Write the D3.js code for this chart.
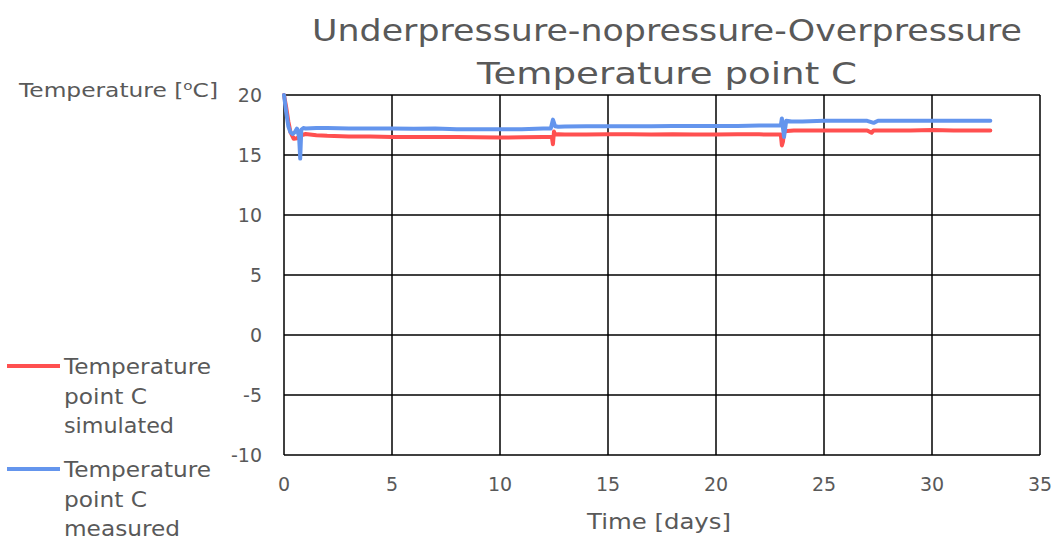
<!DOCTYPE html>
<html>
<head>
<meta charset="utf-8">
<script src="https://cdn.jsdelivr.net/npm/d3@7"></script>
<style>
  body { margin: 0; background: #fff; }
  text { font-family: "DejaVu Sans", sans-serif; fill: #595959; }
</style>
</head>
<body>
<div id="chart"></div>
<script>
// Chart data
const simDays = [0, 0.1, 0.2, 0.3, 0.45, 0.6, 0.8, 1.0, 1.5, 2,
  3, 4, 5, 6, 7, 8, 9, 10, 11, 12,
  12.4, 12.45, 12.5, 12.55, 12.7, 13, 14, 15, 16, 17,
  18, 19, 20, 21, 22, 23.0, 23.05, 23.1, 23.15, 23.3,
  23.6, 24, 25, 26, 27, 27.2, 27.3, 28, 29, 30,
  31, 32, 32.7];
const simTemp = [20, 19.0, 17.8, 16.9, 16.35, 16.4, 16.65, 16.75, 16.65, 16.6,
  16.55, 16.55, 16.5, 16.5, 16.5, 16.5, 16.48, 16.45, 16.48, 16.5,
  16.5, 15.9, 16.95, 16.7, 16.72, 16.7, 16.7, 16.72, 16.72, 16.7,
  16.72, 16.7, 16.7, 16.72, 16.72, 16.7, 15.8, 16.1, 16.95, 17.0,
  17.05, 17.05, 17.05, 17.05, 17.05, 16.85, 17.05, 17.05, 17.05, 17.08,
  17.05, 17.05, 17.05];

const measDays = [0, 0.1, 0.2, 0.3, 0.4, 0.5, 0.6, 0.7, 0.75, 0.8,
  0.9, 1.0, 1.5, 2, 3, 4, 5, 6, 7, 8,
  9, 10, 11, 12, 12.35, 12.45, 12.55, 12.7, 13, 14,
  15, 16, 17, 18, 19, 20, 21, 22, 23.0, 23.05,
  23.15, 23.25, 23.5, 24, 25, 26, 27, 27.3, 27.5, 28,
  29, 30, 31, 32, 32.7];
const measTemp = [20, 18.6, 17.4, 16.9, 16.75, 16.9, 17.2, 16.5, 14.7, 17.1,
  17.25, 17.2, 17.25, 17.25, 17.2, 17.2, 17.2, 17.18, 17.2, 17.15,
  17.15, 17.15, 17.15, 17.2, 17.2, 17.95, 17.4, 17.35, 17.38, 17.4,
  17.4, 17.4, 17.4, 17.42, 17.42, 17.42, 17.42, 17.45, 17.45, 18.05,
  16.5, 17.85, 17.8, 17.8, 17.85, 17.85, 17.85, 17.68, 17.85, 17.85,
  17.85, 17.85, 17.85, 17.85, 17.85];

const xTicks = [0, 5, 10, 15, 20, 25, 30, 35];
const yTicks = [-10, -5, 0, 5, 10, 15, 20];
const titleLines = ["Underpressure-nopressure-Overpressure", "Temperature point C"];
const seriesNames = [["Temperature", "point C", "simulated"], ["Temperature", "point C", "measured"]];
const seriesColors = ["#FF5050", "#6495ED"];

// Layout
const W = 1053, H = 544;
const plot = { left: 284, right: 1040, top: 95, bottom: 455 };

const svg = d3.select("#chart").append("svg")
  .attr("width", W)
  .attr("height", H);

const x = d3.scaleLinear().domain([0, 35]).range([plot.left, plot.right]);
const y = d3.scaleLinear().domain([-10, 20]).range([plot.bottom, plot.top]);

// stretch a text element to the width measured on the reference (wide font there)
function fitWidth(sel, w) {
  sel.attr("textLength", w).attr("lengthAdjust", "spacingAndGlyphs");
}

// Grid lines (vertical and horizontal)
svg.append("g")
  .selectAll("line")
  .data(xTicks)
  .enter().append("line")
  .attr("x1", d => x(d)).attr("x2", d => x(d))
  .attr("y1", plot.top).attr("y2", plot.bottom)
  .attr("stroke", "#000").attr("stroke-width", 1.5);

svg.append("g")
  .selectAll("line")
  .data(yTicks)
  .enter().append("line")
  .attr("x1", plot.left).attr("x2", plot.right)
  .attr("y1", d => y(d)).attr("y2", d => y(d))
  .attr("stroke", "#000").attr("stroke-width", 1.5);

// Tick labels
svg.append("g")
  .selectAll("text")
  .data(yTicks)
  .enter().append("text")
  .attr("x", 262)
  .attr("y", d => y(d) + 7)
  .attr("text-anchor", "end")
  .style("font-size", "19px")
  .text(d => d);

svg.append("g")
  .selectAll("text")
  .data(xTicks)
  .enter().append("text")
  .attr("x", d => x(d))
  .attr("y", 491)
  .attr("text-anchor", "middle")
  .style("font-size", "19px")
  .text(d => d);

// Axis titles
svg.append("text")
  .attr("x", 587).attr("y", 529)
  .style("font-size", "21px")
  .call(fitWidth, 144)
  .text("Time [days]");

const yTitle = svg.append("text")
  .attr("x", 19).attr("y", 97)
  .style("font-size", "20px")
  .call(fitWidth, 199);
yTitle.append("tspan").text("Temperature [");
yTitle.append("tspan").attr("baseline-shift", "super").style("font-size", "13px").text("o");
yTitle.append("tspan").text("C]");

// Chart title
const titleWidths = [710, 380];
svg.append("g")
  .selectAll("text")
  .data(titleLines)
  .enter().append("text")
  .attr("x", (d, i) => 667 - titleWidths[i] / 2)
  .attr("y", (d, i) => 41 + i * 43)
  .style("font-size", "31px")
  .attr("textLength", (d, i) => titleWidths[i])
  .attr("lengthAdjust", "spacingAndGlyphs")
  .text(d => d);

// Series lines
const line = d3.line()
  .x(d => x(d[0]))
  .y(d => y(d[1]));

const series = [
  d3.zip(simDays, simTemp),
  d3.zip(measDays, measTemp)
];

series.forEach((s, i) => {
  svg.append("path")
    .datum(s)
    .attr("fill", "none")
    .attr("stroke", seriesColors[i])
    .attr("stroke-width", 4)
    .attr("stroke-linejoin", "round")
    .attr("stroke-linecap", "round")
    .attr("d", line);
});

// Legend
const legendWidths = [[147, 83, 110], [147, 83, 116]];
const legend = svg.append("g");
seriesNames.forEach((lines, i) => {
  const top = 366 + i * 103;
  legend.append("line")
    .attr("x1", 7).attr("x2", 60)
    .attr("y1", top).attr("y2", top)
    .attr("stroke", seriesColors[i])
    .attr("stroke-width", 4);
  lines.forEach((t, j) => {
    legend.append("text")
      .attr("x", 64)
      .attr("y", top + 8 + j * 29.5)
      .style("font-size", "21px")
      .call(fitWidth, legendWidths[i][j])
      .text(t);
  });
});
</script>
</body>
</html>
